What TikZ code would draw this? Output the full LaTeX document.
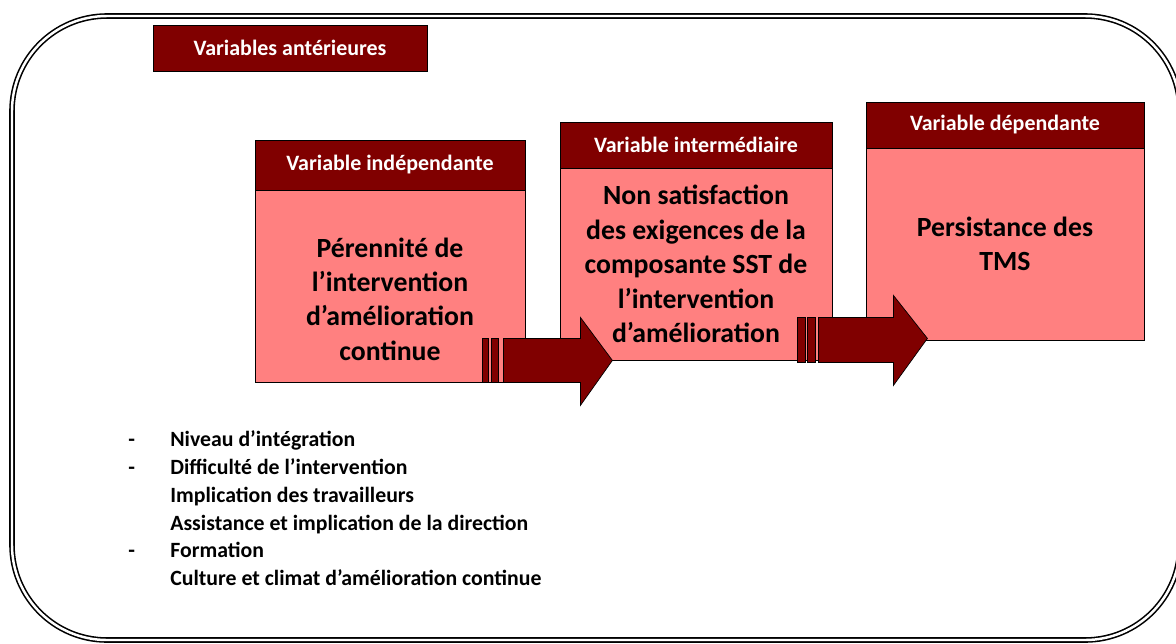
\documentclass[tikz,border=0pt]{standalone}
\usepackage{fontspec}
\setmainfont{Carlito}
\usepackage{tikz}
\usetikzlibrary{calc}
\definecolor{iragdark}{RGB}{128,0,0}
\definecolor{iragpink}{RGB}{255,128,128}

\begin{document}
\begin{tikzpicture}[
      x=0.02cm, y=-0.02cm,
      frame/.style={draw=black, double=white, double distance=1.4pt,
        line width=0.9pt, rounded corners=1.9cm},
      hdr/.style={draw=black, line width=0.5pt, fill=iragdark, text=white,
        inner sep=0pt, font=\fontsize{12.5}{14}\selectfont\bfseries},
      body/.style={draw=black, line width=0.5pt, fill=iragpink, align=center,
        inner sep=0pt, font=\fontsize{15.8}{19.6}\selectfont\bfseries},
      stripe/.style={fill=iragdark, draw=black, line width=0.4pt},
      blockarr/.style={fill=iragdark, draw=black, line width=0.4pt},
      item/.style={anchor=base west, inner sep=0pt, font=\fontsize{12.4}{14}\selectfont\bfseries}
    ]
    \useasboundingbox (0,0) rectangle (1176,643);
    % ---------------- outer frame ----------------
    \draw[frame] (12,16) rectangle (1180,640);
    \node[hdr, minimum width=5.48cm, minimum height=0.92cm] (ant) at (290,48) {Variables antérieures};
    % ---------------- independent variable ----------------
    \node[hdr, minimum width=5.4cm, minimum height=1.0cm] (h1) at (390,165) {Variable indépendante};
    \node[body, minimum width=5.4cm, minimum height=3.84cm] (b1) at (390,286)
      {\rule{0pt}{26pt}Pérennité de\\l’intervention\\d’amélioration\\continue};
    % ---------------- intermediate variable ----------------
    \node[hdr, minimum width=5.44cm, minimum height=0.92cm] (h2) at (696,145) {Variable intermédiaire};
    \node[body, minimum width=5.44cm, minimum height=3.84cm] (b2) at (696,264)
      {Non satisfaction\\des exigences de la\\composante SST de\\l’intervention\\d’amélioration};
    % ---------------- dependent variable ----------------
    \node[hdr, minimum width=5.56cm, minimum height=0.92cm] (h3) at (1005,125) {Variable dépendante};
    \node[body, minimum width=5.56cm, minimum height=3.84cm] (b3) at (1005,244)
      {Persistance des\\TMS};
    % ---------------- striped arrows ----------------
    \draw[stripe] ($(b1.south east)+(-43,0)$) rectangle ($(b1.south east)+(-37,-44)$);
    \draw[stripe] ($(b1.south east)+(-34,0)$) rectangle ($(b1.south east)+(-27,-44)$);
    \draw[blockarr] ($(b1.south east)+(-22,0)$) -- ($(b1.south east)+(55,0)$)
      -- ($(b1.south east)+(55,23)$) -- ($(b1.south east)+(87,-22)$)
      -- ($(b1.south east)+(55,-65)$) -- ($(b1.south east)+(55,-44)$)
      -- ($(b1.south east)+(-22,-44)$) -- cycle;
    \draw[stripe] ($(b2.south east)+(-35,2)$) rectangle ($(b2.south east)+(-27,-43)$);
    \draw[stripe] ($(b2.south east)+(-25,2)$) rectangle ($(b2.south east)+(-17,-43)$);
    \draw[blockarr] ($(b2.south east)+(-14,2)$) -- ($(b2.south east)+(61,2)$)
      -- ($(b2.south east)+(61,25)$) -- ($(b2.south east)+(95,-22)$)
      -- ($(b2.south east)+(61,-65)$) -- ($(b2.south east)+(61,-43)$)
      -- ($(b2.south east)+(-14,-43)$) -- cycle;
    % ---------------- earlier variables ----------------
    \node[item] (d1) at (128,446) {-};
    \node[item] (l1) at (170,446) {Niveau d’intégration};
    \node[item] (d2) at (128,474) {-};
    \node[item] (l2) at (170,474) {Difficulté de l’intervention};
    \node[item] (l3) at (170,502) {Implication des travailleurs};
    \node[item] (l4) at (170,530) {Assistance et implication de la direction};
    \node[item] (d3) at (128,557) {-};
    \node[item] (l5) at (170,557) {Formation};
    \node[item] (l6) at (170,585) {Culture et climat d’amélioration continue};
  \end{tikzpicture}
\end{document}
